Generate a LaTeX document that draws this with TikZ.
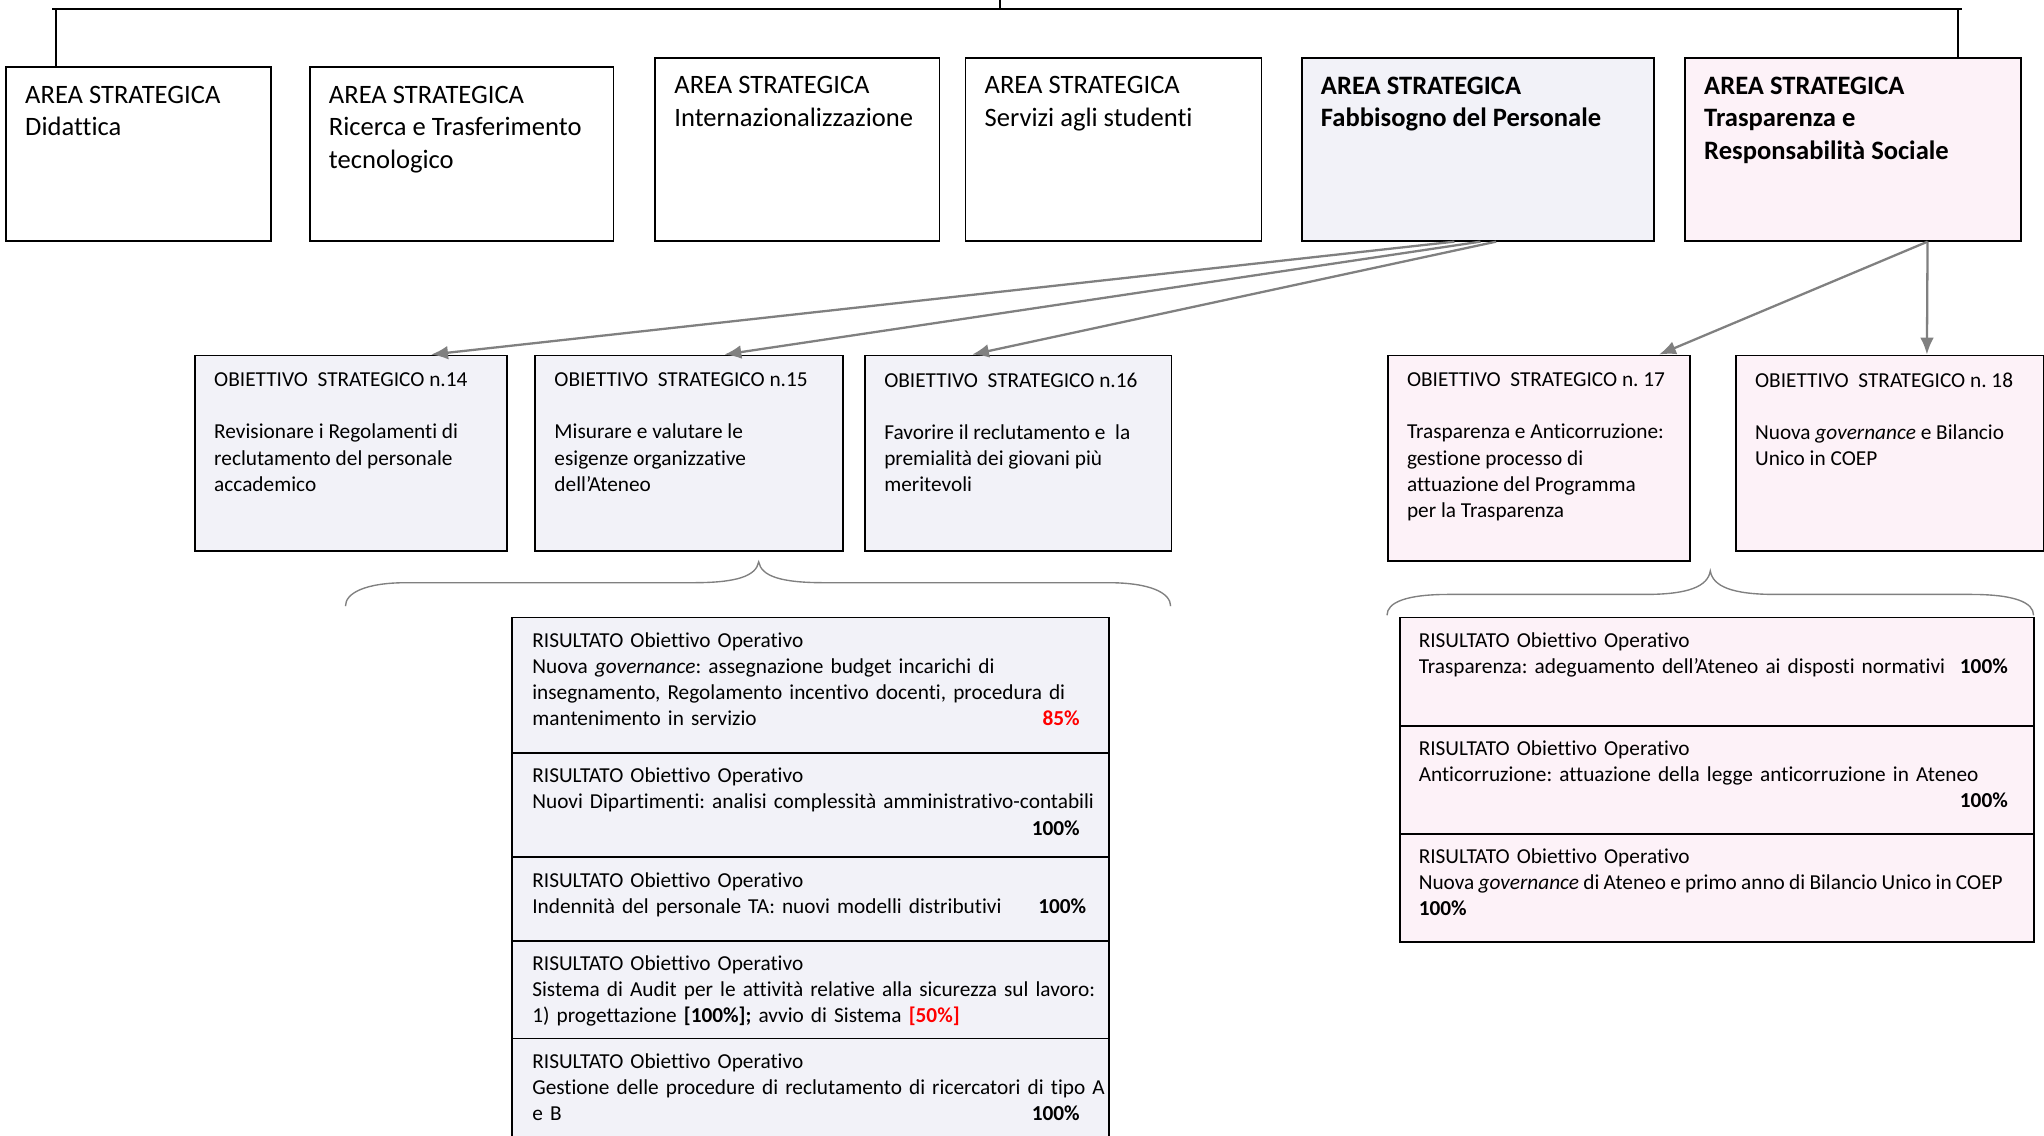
\documentclass[tikz,border=0pt]{standalone}
\usepackage{fontspec}
\setmainfont{Carlito}[Ligatures=NoCommon]
\usepackage{xcolor}
\usepackage{tikz}
\usetikzlibrary{calc}
\usetikzlibrary{arrows.meta}
\usetikzlibrary{positioning}
\tikzset{>=latex}
\frenchspacing
\definecolor{lav}{RGB}{242,242,248}
\definecolor{pnk}{RGB}{253,242,248}
\definecolor{arrgray}{RGB}{128,128,128}
\newcommand{\fa}{\fontsize{11.6}{14.2}\selectfont}
\newcommand{\fb}{\fontsize{9.3}{11.4}\selectfont}
\newcommand{\tofill}{\leavevmode\hskip 0pt plus 1filll\relax}
\tikzstyle{box} = [draw, rectangle, line width=0.8pt, anchor=north west, inner sep=0]
\tikzstyle{txt} = [anchor=north west, inner sep=0, align=left]
\tikzstyle{arr} = [-{Latex[length=2.6mm, width=2.1mm]}, draw=arrgray, fill=arrgray, line width=1pt]
\tikzstyle{brace} = [draw=arrgray, line width=0.6pt]

\begin{document}
\begin{tikzpicture}[x=0.02cm, y=-0.02cm]
\useasboundingbox (0,0) rectangle (1568,871);
% aree strategiche
\node [box, minimum width=4.06cm, minimum height=2.66cm, label={[txt, font=\fa, xshift=0.3cm, yshift=-0.29cm]north west:{AREA STRATEGICA\\Didattica}}] (A1) at (4,51) {};
\node [box, minimum width=4.66cm, minimum height=2.66cm, label={[txt, font=\fa, xshift=0.3cm, yshift=-0.29cm]north west:{AREA STRATEGICA\\Ricerca e Trasferimento\\tecnologico}}] (A2) at (237,51) {};
\node [box, minimum width=4.36cm, minimum height=2.8cm, label={[txt, font=\fa, xshift=0.3cm, yshift=-0.29cm]north west:{AREA STRATEGICA\\Internazionalizzazione}}] (A3) at (502,44) {};
\node [box, minimum width=4.54cm, minimum height=2.8cm, label={[txt, font=\fa, xshift=0.3cm, yshift=-0.29cm]north west:{AREA STRATEGICA\\Servizi agli studenti}}] (A4) at (740,44) {};
\node [box, fill=lav, minimum width=5.4cm, minimum height=2.8cm, label={[txt, font=\fa\bfseries, xshift=0.3cm, yshift=-0.29cm]north west:{AREA STRATEGICA\\Fabbisogno del Personale}}] (A5) at (998,44) {};
\node [box, fill=pnk, minimum width=5.16cm, minimum height=2.8cm, label={[txt, font=\fa\bfseries, xshift=0.3cm, yshift=-0.29cm]north west:{AREA STRATEGICA\\Trasparenza e\\Responsabilità Sociale}}] (A6) at (1292,44) {};

\coordinate (busW) at (40,7);
\coordinate (busE) at (1505,7);
\coordinate (busT) at (767,-5);
\coordinate (bus1) at (43,7);
\coordinate (bus6) at (1502,7);
\draw [line width=0.7pt] (busW) -- (busE);
\draw [line width=0.7pt] (busT) -- (busT |- busW);
\draw [line width=0.7pt] (bus1) -- (bus1 |- A1.north);
\draw [line width=0.7pt] (bus6) -- (bus6 |- A6.north);

% obiettivi strategici
\node [box, fill=lav, minimum width=4.78cm, minimum height=3cm, label={[txt, font=\fb, xshift=0.3cm, yshift=-0.275cm]north west:{OBIETTIVO\ \ STRATEGICO n.14\\[11.4pt]Revisionare i Regolamenti di\\reclutamento del personale\\accademico}}] (O14) at (149,272) {};
\node [box, fill=lav, minimum width=4.72cm, minimum height=3cm, label={[txt, font=\fb, xshift=0.3cm, yshift=-0.275cm]north west:{OBIETTIVO\ \ STRATEGICO n.15\\[11.4pt]Misurare e valutare le\\esigenze organizzative\\dell’Ateneo}}] (O15) at (410,272) {};
\node [box, fill=lav, minimum width=4.7cm, minimum height=3cm, label={[txt, font=\fb, xshift=0.3cm, yshift=-0.275cm]north west:{OBIETTIVO\ \ STRATEGICO n.16\\[11.4pt]Favorire il reclutamento e\ \ la\\premialità dei giovani più\\meritevoli}}] (O16) at (663,272) {};
\node [box, fill=pnk, minimum width=4.64cm, minimum height=3.16cm, label={[txt, font=\fb, xshift=0.3cm, yshift=-0.275cm]north west:{OBIETTIVO\ \ STRATEGICO n. 17\\[11.4pt]Trasparenza e Anticorruzione:\\gestione processo di\\attuazione del Programma\\per la Trasparenza}}] (O17) at (1064,272) {};
\node [box, fill=pnk, minimum width=4.72cm, minimum height=3cm, label={[txt, font=\fb, xshift=0.3cm, yshift=-0.275cm]north west:{OBIETTIVO\ \ STRATEGICO n. 18\\[11.4pt]Nuova \textit{governance} e Bilancio\\Unico in COEP}}] (O18) at (1331,272) {};

\draw [arr] ([xshift=-0.36cm]A5.south) -- ([xshift=1.23cm]O14.north);
\draw [arr] ([xshift=0.04cm]A5.south) -- ([xshift=0.54cm]O15.north);
\draw [arr] ([xshift=0.28cm]A5.south) -- ([xshift=-0.71cm]O16.north);
\draw [arr] ([xshift=1.14cm]A6.south) -- ([xshift=1.84cm]O17.north);
\draw [arr] ([xshift=1.14cm]A6.south) -- ([xshift=0.57cm]O18.north);

% graffe
\draw [brace] (265,465) .. controls (265,455) and (280,447) .. (312,447) -- (532,447) .. controls (565,447) and (580,442) .. (582,431) .. controls (584,442) and (599,447) .. (632,447) -- (850,447) .. controls (883,447) and (898,455) .. (898,465);
\draw [brace] (1064,472) .. controls (1064,462) and (1079,456) .. (1111,456) -- (1262,456) .. controls (1295,456) and (1310,450) .. (1312,438) .. controls (1314,450) and (1329,456) .. (1362,456) -- (1512,456) .. controls (1545,456) and (1560,462) .. (1560,472);

% risultati fabbisogno del personale
\node [box, fill=lav, minimum width=9.16cm, minimum height=2.08cm, label={[txt, font=\fb, text width=8.4cm, xshift=0.32cm, yshift=-0.236cm]north west:{RISULTATO Obiettivo Operativo\\Nuova \textit{governance}: assegnazione budget incarichi di\\insegnamento, Regolamento incentivo docenti, procedura di\\mantenimento in servizio\tofill{\color{red}\textbf{85\%}}\hspace*{0.24cm}}}] (R1) at (392,473) {};
\node [box, fill=lav, minimum width=9.16cm, minimum height=1.6cm, label={[txt, font=\fb, text width=8.4cm, xshift=0.32cm, yshift=-0.236cm]north west:{RISULTATO Obiettivo Operativo\\\mbox{Nuovi Dipartimenti: analisi complessità amministrativo-contabili}\\\tofill\textbf{100\%}}}] (R2) at (392,577) {};
\node [box, fill=lav, minimum width=9.16cm, minimum height=1.28cm, label={[txt, font=\fb, text width=8.5cm, xshift=0.32cm, yshift=-0.236cm]north west:{RISULTATO Obiettivo Operativo\\Indennità del personale TA: nuovi modelli distributivi\tofill\textbf{100\%}}}] (R3) at (392,657) {};
\node [box, fill=lav, minimum width=9.16cm, minimum height=1.5cm, label={[txt, font=\fb, text width=8.5cm, xshift=0.32cm, yshift=-0.236cm]north west:{RISULTATO Obiettivo Operativo\\\mbox{Sistema di Audit per le attività relative alla sicurezza sul lavoro:}\\1) progettazione \textbf{[100\%]; }avvio di Sistema {\color{red}\textbf{[50\%]}}}}] (R4) at (392,721) {};
\node [box, fill=lav, minimum width=9.16cm, minimum height=1.6cm, label={[txt, font=\fb, text width=8.4cm, xshift=0.32cm, yshift=-0.236cm]north west:{RISULTATO Obiettivo Operativo\\\mbox{Gestione delle procedure di reclutamento di ricercatori di tipo A}\\e B\tofill\textbf{100\%}\hspace*{0.04cm}}}] (R5) at (392,796) {};

% risultati trasparenza
\node [box, fill=pnk, minimum width=9.74cm, minimum height=1.66cm, label={[txt, font=\fb, text width=9.04cm, xshift=0.3cm, yshift=-0.236cm]north west:{RISULTATO Obiettivo Operativo\\Trasparenza: adeguamento dell’Ateneo ai disposti normativi\tofill\textbf{100\%}}}] (T1) at (1073,473) {};
\node [box, fill=pnk, minimum width=9.74cm, minimum height=1.66cm, label={[txt, font=\fb, text width=9.04cm, xshift=0.3cm, yshift=-0.236cm]north west:{RISULTATO Obiettivo Operativo\\Anticorruzione: attuazione della legge anticorruzione in Ateneo\\\tofill\textbf{100\%}}}] (T2) at (1073,556) {};
\node [box, fill=pnk, minimum width=9.74cm, minimum height=1.66cm, label={[txt, font=\fb, text width=9.2cm, xshift=0.3cm, yshift=-0.236cm]north west:{RISULTATO Obiettivo Operativo\\\mbox{\spaceskip=0.2em Nuova \textit{governance} di Ateneo e primo anno di Bilancio Unico in COEP}\\\textbf{100\%}}}] (T3) at (1073,639) {};
\end{tikzpicture}
\end{document}
